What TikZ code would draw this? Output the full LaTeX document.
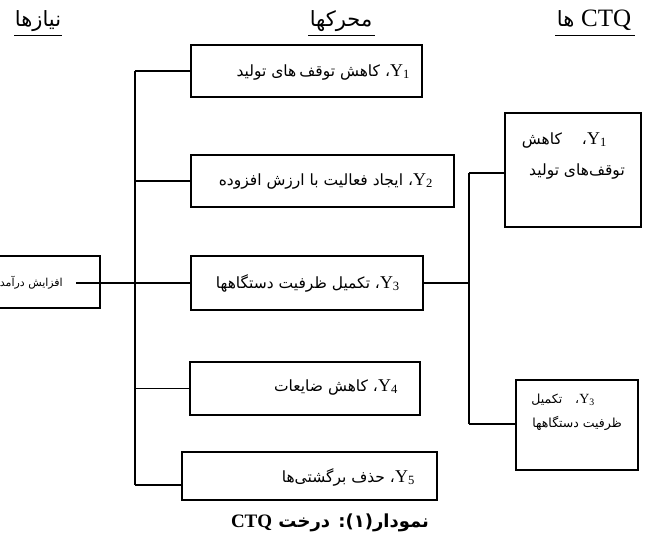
\documentclass[tikz,border=0pt]{standalone}
\usepackage{fontspec}
\setmainfont{Liberation Serif}
\newfontfamily\fa[Script=Arabic]{DejaVu Sans}
\TeXXeTstate=1
\newcommand{\Ysub}[2][18]{\beginL{\rmfamily\fontsize{#1}{#1}\selectfont Y\textsubscript{#2}}\endL}
\tikzset{
  box/.style={draw, line width=1.3pt, rectangle, inner sep=0pt},
  conn/.style={line width=1.2pt},
  thickconn/.style={line width=2.4pt},
  midconn/.style={line width=1.8pt},
  txt/.style={inner sep=0pt, font=\fa\fontsize{15.5}{18}\selectfont},
  midtxt/.style={inner sep=0pt, font=\fa\fontsize{12.5}{15}\selectfont},
  smalltxt/.style={inner sep=0pt, font=\fa\fontsize{11}{13}\selectfont},
  head/.style={inner sep=0pt, anchor=base, font=\fa\fontsize{21}{24}\selectfont},
}
\begin{document}
\begin{tikzpicture}[x=1pt,y=-1pt]
\useasboundingbox (0,0) rectangle (649,546);
% headers
\node[head] (h1) at (38,27) {\beginR نیازها\endR};
\node[head] (h2) at (341,27) {\beginR محرکها\endR};
\node[head] (h3) at (594,27) {\beginR\beginL{\rmfamily\fontsize{25}{25}\selectfont CTQ}\endL{} ها\endR};
\coordinate (u1a) at (14,35); \coordinate (u1b) at (62,35);
\coordinate (u2a) at (308,35); \coordinate (u2b) at (375,35);
\coordinate (u3a) at (555,35); \coordinate (u3b) at (635,35);
\draw[line width=0.9pt] (u1a) -- (u1b);
\draw[line width=0.9pt] (u2a) -- (u2b);
\draw[line width=0.9pt] (u3a) -- (u3b);
% boxes
\node[box, minimum width=130pt, minimum height=52pt] (l0) at (35,282) {};
\node[box, minimum width=231pt, minimum height=52pt] (y1) at (306.5,71) {};
\node[box, minimum width=263pt, minimum height=52pt] (y2) at (322.5,181) {};
\node[box, minimum width=232pt, minimum height=54pt] (y3) at (307,283) {};
\node[box, minimum width=230pt, minimum height=53pt] (y4) at (305,388.5) {};
\node[box, minimum width=255pt, minimum height=48pt] (y5) at (309.5,476) {};
\node[box, minimum width=136pt, minimum height=114pt] (c1) at (573,170) {};
\node[box, minimum width=122pt, minimum height=90pt] (c3) at (577,425) {};
% texts
\node[smalltxt, anchor=east] (tl0) at (63,283) {\beginR افزایش درآمد\endR};
\node[txt, anchor=east] (t1) at (410,72) {\beginR\Ysub{1}، کاهش توقف\hspace{3pt}‌های تولید\endR};
\node[txt, anchor=east] (t2) at (433,181) {\beginR\Ysub{2}، ایجاد فعالیت با ارزش افزوده\endR};
\node[txt, anchor=east] (t3) at (400,283) {\beginR\Ysub{3}، تکمیل ظرفیت دستگاهها\endR};
\node[txt, anchor=east] (t4) at (398,387) {\beginR\Ysub{4}، کاهش ضایعات\endR};
\node[txt, anchor=east] (t5) at (415,477) {\beginR\Ysub{5}، حذف برگشتی‌ها\endR};
\node[txt, anchor=east] (tc1a) at (607,140) {\beginR\Ysub{1}،\hspace*{20pt}کاهش\endR};
\node[txt, anchor=east] (tc1b) at (625,172) {\beginR توقف‌های تولید\endR};
\node[midtxt, anchor=east] (tc3a) at (595,400) {\beginR\Ysub[14]{3}،\hspace*{13pt}تکمیل\endR};
\node[midtxt, anchor=east] (tc3b) at (622,423) {\beginR ظرفیت دستگاهها\endR};
% caption
\node[inner sep=0pt, font=\fa\bfseries\fontsize{18}{20}\selectfont] (cap) at (330,523)
  {\beginR نمودار(۱): درخت \beginL{\rmfamily\bfseries\fontsize{19}{19}\selectfont CTQ}\endL\endR};
% left spine
\coordinate (sTop) at (135,71);
\coordinate (sBot) at (135,485);
\coordinate (sMidA) at (135,256);
\coordinate (sMidB) at (135,388);
\coordinate (lStart) at (76,283);
\draw[midconn] (sTop) -- (sBot);
\draw[thickconn] (sMidA) -- (sMidB);
\draw[conn] (sTop) -- (y1.west);
\draw[conn] (y2.west -| sTop) -- (y2.west);
\draw[thickconn] (lStart) -- (lStart -| sTop);
\draw[conn] (lStart -| sTop) -- (y3.west);
\draw[conn] (y4.west -| sTop) -- (y4.west);
\draw[conn] (sBot) -- (sBot -| y5.west);
% right spine
\coordinate (rTop) at (469,173);
\coordinate (rBot) at (469,424);
\draw[midconn] (y3.east) -- (y3.east -| rTop);
\draw[midconn] (rTop) -- (rBot);
\draw[conn] (rTop) -- (rTop -| c1.west);
\draw[conn] (rBot) -- (rBot -| c3.west);
\end{tikzpicture}
\end{document}
